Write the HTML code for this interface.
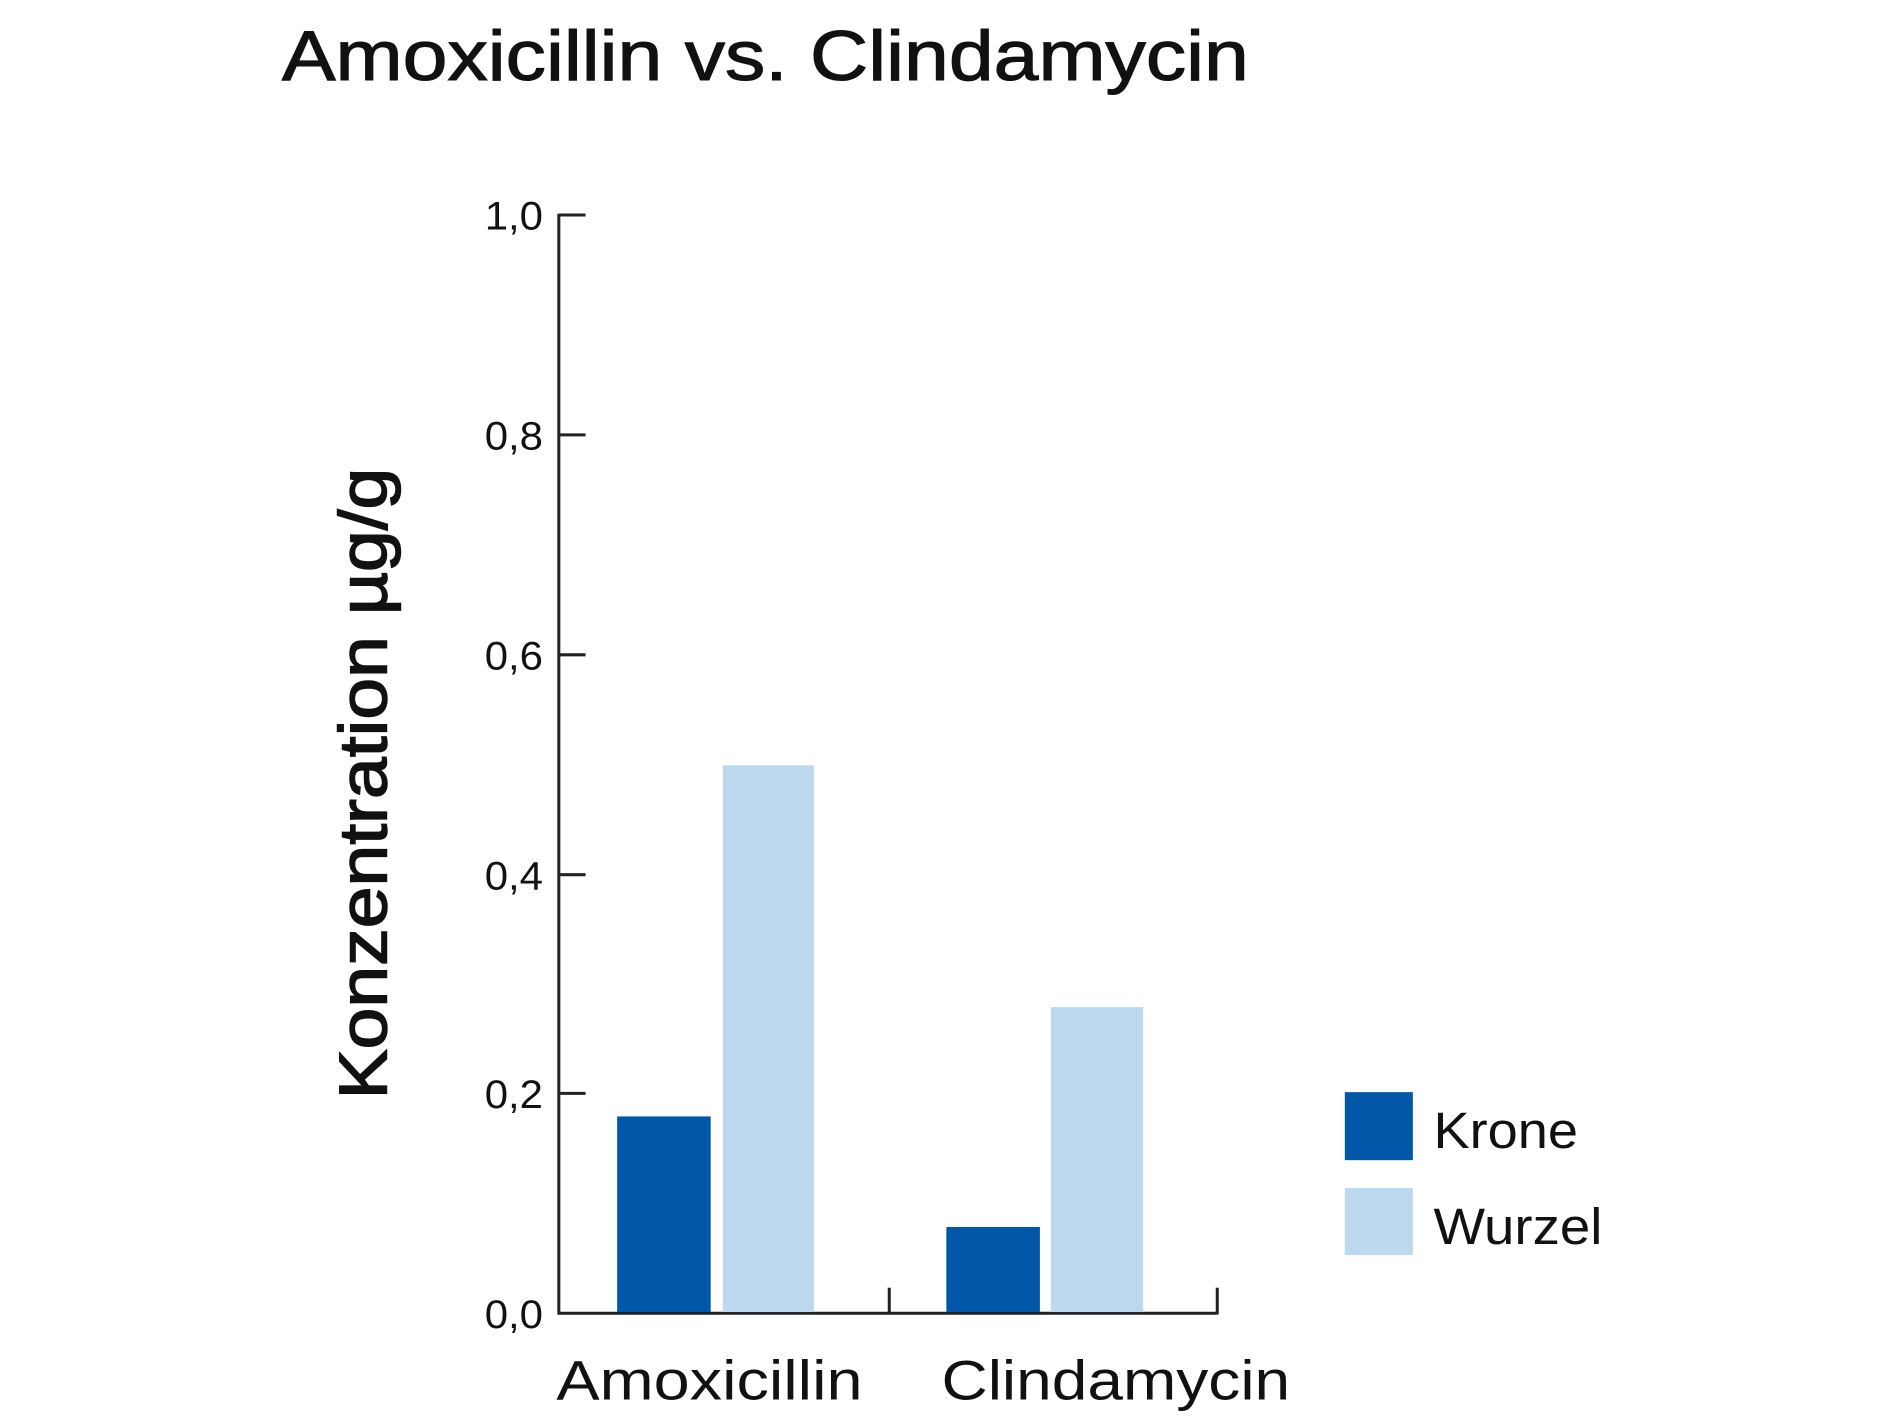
<!DOCTYPE html>
<html><head><meta charset="utf-8"><style>html,body{margin:0;padding:0;background:#fff}svg{display:block}</style></head>
<body>
<svg width="1900" height="1425" viewBox="0 0 1564 1173" preserveAspectRatio="none" xmlns="http://www.w3.org/2000/svg" font-family="Liberation Sans, sans-serif" fill="#111">
<text x="232" y="66" font-size="58" textLength="796" lengthAdjust="spacingAndGlyphs" stroke="#111" stroke-width="0.9">Amoxicillin vs. Clindamycin</text>
<g stroke="#222" stroke-width="2.5" fill="none">
<line x1="460" y1="176" x2="460" y2="1082"/>
<line x1="459" y1="1081" x2="1002" y2="1081"/>
<line x1="732" y1="1081" x2="732" y2="1060"/>
<line x1="1002" y1="1082" x2="1002" y2="1060"/>
<line x1="460" y1="177" x2="482" y2="177"/>
<line x1="460" y1="358" x2="482" y2="358"/>
<line x1="460" y1="539" x2="482" y2="539"/>
<line x1="460" y1="720" x2="482" y2="720"/>
<line x1="460" y1="900" x2="482" y2="900"/>
</g>
<g font-size="33" text-anchor="end">
<text x="447" y="189" textLength="48" lengthAdjust="spacingAndGlyphs">1,0</text>
<text x="447" y="370" textLength="48" lengthAdjust="spacingAndGlyphs">0,8</text>
<text x="447" y="551" textLength="48" lengthAdjust="spacingAndGlyphs">0,6</text>
<text x="447" y="732" textLength="48" lengthAdjust="spacingAndGlyphs">0,4</text>
<text x="447" y="912" textLength="48" lengthAdjust="spacingAndGlyphs">0,2</text>
<text x="447" y="1093" textLength="48" lengthAdjust="spacingAndGlyphs">0,0</text>
</g>
<rect x="508" y="919" width="77" height="161" fill="#0057a8"/>
<rect x="595" y="630" width="75" height="450" fill="#bcd8ee"/>
<rect x="779" y="1010" width="77" height="70" fill="#0057a8"/>
<rect x="865" y="829" width="76" height="251" fill="#bcd8ee"/>
<text x="458" y="1152" font-size="46" textLength="252" lengthAdjust="spacingAndGlyphs">Amoxicillin</text>
<text x="775" y="1152" font-size="46" textLength="287" lengthAdjust="spacingAndGlyphs">Clindamycin</text>
<text transform="translate(318,645) rotate(-90)" text-anchor="middle" font-size="56" textLength="520" lengthAdjust="spacingAndGlyphs" stroke="#111" stroke-width="1.2">Konzentration µg/g</text>
<rect x="1107" y="899" width="56" height="56" fill="#0057a8"/>
<rect x="1107" y="978" width="56" height="55" fill="#bcd8ee"/>
<text x="1180" y="945" font-size="42" textLength="119" lengthAdjust="spacingAndGlyphs">Krone</text>
<text x="1180" y="1024" font-size="42" textLength="139" lengthAdjust="spacingAndGlyphs">Wurzel</text>
</svg>
</body></html>
